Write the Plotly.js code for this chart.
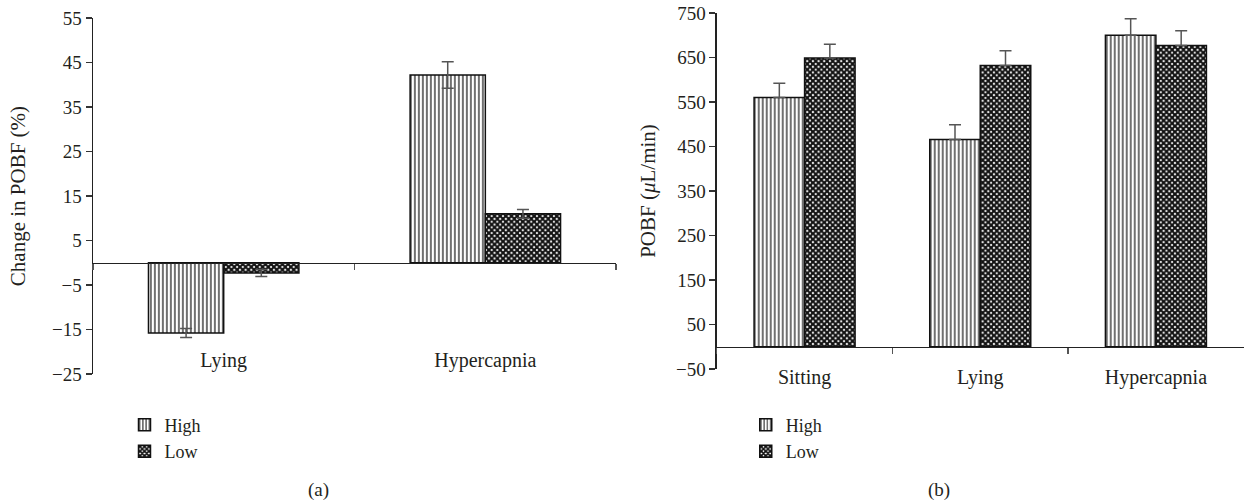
<!DOCTYPE html>
<html>
<head>
<meta charset="utf-8">
<script src="https://cdn.plot.ly/plotly-3.0.1.min.js"></script>
<style>html,body{margin:0;padding:0;background:#fff;}#chart{width:1245px;height:502px;}</style>
</head>
<body>
<div id="chart"></div>
<script>
// Panel (a): change in POBF (%)
const catsA = ['Lying', 'Hypercapnia'];
const highA = [-15.8, 42.2];
const highErrA = [1.0, 3.0];
const lowA = [-2.3, 11.0];
const lowErrA = [0.8, 1.0];

// Panel (b): POBF (µL/min)
const catsB = ['Sitting', 'Lying', 'Hypercapnia'];
const highB = [560, 466, 700];
const highErrB = [32, 33, 37];
const lowB = [649, 632, 677];
const lowErrB = [31, 33, 33];

const seriesNames = ['High', 'Low'];

const FONT = 'Liberation Serif, Times New Roman, serif';
const TXT = '#231f20';
const TICK_SIZE = 19;
const LABEL_SIZE = 20;
const LEGEND_SIZE = 18;

const highPattern = {shape: '|', size: 4, solidity: 0.35, fgcolor: '#333', bgcolor: '#fff', fillmode: 'replace'};
const lowPattern = {shape: 'x', size: 4, solidity: 0.78, fgcolor: '#111', bgcolor: '#fff', fillmode: 'replace'};
const lineStyle = {color: '#111', width: 1.5};

function err(arr, up) {
  return up
    ? {type: 'data', array: arr, arrayminus: arr.map(() => 0), symmetric: false, color: '#555', thickness: 1.5, width: 6}
    : {type: 'data', array: arr, visible: true, color: '#555', thickness: 1.5, width: 6};
}

const traces = [
  {type: 'bar', x: catsA, y: highA, name: seriesNames[0], xaxis: 'x', yaxis: 'y', legend: 'legend',
   marker: {color: '#fff', pattern: highPattern, line: lineStyle}, error_y: err(highErrA, false)},
  {type: 'bar', x: catsA, y: lowA, name: seriesNames[1], xaxis: 'x', yaxis: 'y', legend: 'legend',
   marker: {color: '#fff', pattern: lowPattern, line: lineStyle}, error_y: err(lowErrA, false)},
  {type: 'bar', x: catsB, y: highB, name: seriesNames[0], xaxis: 'x2', yaxis: 'y2', legend: 'legend2',
   marker: {color: '#fff', pattern: highPattern, line: lineStyle}, error_y: err(highErrB, true)},
  {type: 'bar', x: catsB, y: lowB, name: seriesNames[1], xaxis: 'x2', yaxis: 'y2', legend: 'legend2',
   marker: {color: '#fff', pattern: lowPattern, line: lineStyle}, error_y: err(lowErrB, true)}
];

const yDomA = [0.255, 0.964];
const yDomB = [0.265, 0.974];
const zeroA = yDomA[0] + (25 / 80) * (yDomA[1] - yDomA[0]);
const zeroB = yDomB[0] + (50 / 800) * (yDomB[1] - yDomB[0]);

const xCommon = {
  type: 'category', showline: true, linecolor: '#222', linewidth: 1.3,
  ticks: 'outside', tickson: 'boundaries', ticklen: 6, tickcolor: '#555', tickwidth: 1.3,
  showgrid: false, zeroline: false, anchor: 'free',
  tickfont: {family: FONT, size: LABEL_SIZE, color: TXT}
};
const yCommon = {
  showline: true, linecolor: '#222', linewidth: 1.3, ticks: 'outside', ticklen: 6,
  tickcolor: '#333', tickwidth: 1.3, showgrid: false, zeroline: false,
  tickfont: {family: FONT, size: TICK_SIZE, color: TXT}
};

const layout = {
  width: 1245, height: 502,
  margin: {l: 0, r: 0, t: 0, b: 0},
  paper_bgcolor: '#fff', plot_bgcolor: 'rgba(0,0,0,0)',
  font: {family: FONT, color: TXT, size: LABEL_SIZE},
  barmode: 'group', bargap: 0.425, bargroupgap: 0,
  xaxis: Object.assign({}, xCommon, {domain: [0.0746, 0.4949], position: zeroA, range: [-0.5, 1.5], ticklabelstandoff: 79}),
  yaxis: Object.assign({}, yCommon, {domain: yDomA, anchor: 'x', range: [-25, 55], tick0: -25, dtick: 10,
    title: {text: 'Change in POBF (%)', font: {family: FONT, size: 21, color: TXT}, standoff: 20}}),
  xaxis2: Object.assign({}, xCommon, {domain: [0.5757, 0.999], position: zeroB, range: [-0.5, 2.5], ticklabelstandoff: 12}),
  yaxis2: Object.assign({}, yCommon, {domain: yDomB, anchor: 'x2', range: [-50, 750], tick0: -50, dtick: 100,
    title: {text: 'POBF (<i>μ</i>L/min)', font: {family: FONT, size: 21, color: TXT}, standoff: 14}}),
  legend: {x: 0.1, y: 0.19, xanchor: 'left', yanchor: 'top', bgcolor: 'rgba(0,0,0,0)',
    font: {family: FONT, size: LEGEND_SIZE, color: TXT}, traceorder: 'normal', itemwidth: 30},
  legend2: {x: 0.599, y: 0.19, xanchor: 'left', yanchor: 'top', bgcolor: 'rgba(0,0,0,0)',
    font: {family: FONT, size: LEGEND_SIZE, color: TXT}, traceorder: 'normal', itemwidth: 30},
  annotations: [
    {text: '(a)', xref: 'paper', yref: 'paper', x: 318 / 1245, y: 1 - 490 / 502, xanchor: 'center', yanchor: 'middle',
     showarrow: false, font: {family: FONT, size: 19, color: TXT}},
    {text: '(b)', xref: 'paper', yref: 'paper', x: 939 / 1245, y: 1 - 490 / 502, xanchor: 'center', yanchor: 'middle',
     showarrow: false, font: {family: FONT, size: 19, color: TXT}}
  ],
  showlegend: true
};

Plotly.newPlot('chart', traces, layout, {displayModeBar: false, staticPlot: true});
</script>
</body>
</html>
